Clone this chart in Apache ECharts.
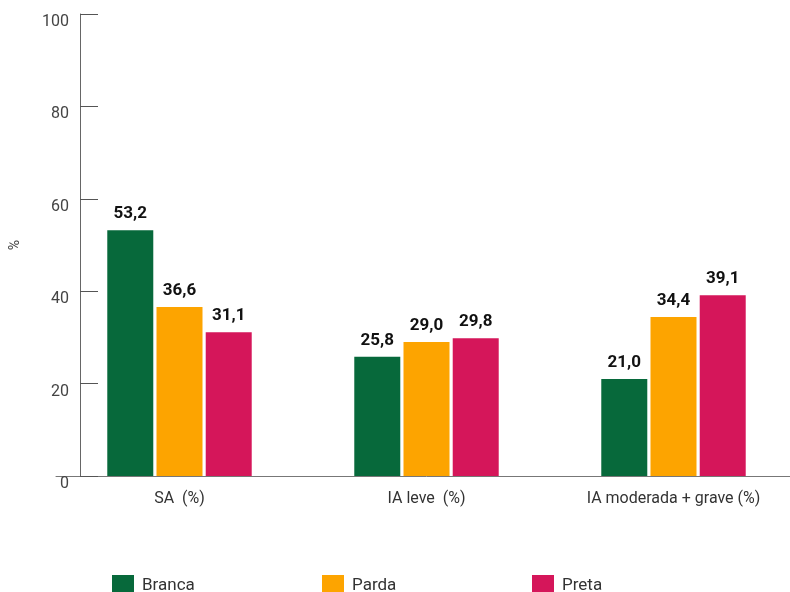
<!DOCTYPE html>
<html><head><meta charset="utf-8">
<script src="https://cdn.jsdelivr.net/npm/echarts@6/dist/echarts.min.js"></script>
<style>html,body{margin:0;padding:0;background:#fff;overflow:hidden}#c{width:800px;height:592px}</style>
</head><body><div id="c"></div>
<script>
const categories = ['SA  (%)', 'IA leve  (%)', 'IA moderada + grave (%)'];
const branca = [53.2, 25.8, 21.0];
const parda = [36.6, 29.0, 34.4];
const preta = [31.1, 29.8, 39.1];
const seriesNames = ['Branca', 'Parda', 'Preta'];
const colors = ['#07693b', '#fda400', '#d5165a'];
const yTicks = [0, 20, 40, 60, 80, 100];

const chart = echarts.init(document.getElementById('c'));
const fmt = p => p.value.toFixed(1).replace('.', ',');
const mk = (name, data, i) => ({
  name, type: 'bar', data, barWidth: 46, barGap: '7%',
  itemStyle: { color: colors[i] },
  label: { show: true, position: 'top', distance: 8, formatter: fmt,
    fontFamily: 'Roboto', fontWeight: 'bold', fontSize: 17, color: '#111' }
});
const legendLefts = [107, 317, 527];
chart.setOption({
  animation: false,
  textStyle: { fontFamily: 'Roboto' },
  grid: { left: 53, top: 14, right: 3, bottom: 116 },
  legend: seriesNames.map((n, i) => ({
    left: legendLefts[i], top: 570, itemWidth: 22, itemHeight: 22, itemGap: 8,
    icon: 'rect',
    textStyle: { fontFamily: 'Roboto', fontSize: 17, color: '#333', padding: [0, 0, 0, 3] },
    data: [n]
  })),
  xAxis: {
    type: 'category', data: categories,
    axisLine: { lineStyle: { color: '#777' } },
    axisTick: { inside: true, length: 10, lineStyle: { color: '#777' } },
    axisLabel: { fontSize: 16, color: '#333', margin: 15 }
  },
  yAxis: {
    type: 'value', min: yTicks[0], max: yTicks[yTicks.length - 1], interval: 20,
    offset: -24,
    name: '%', nameLocation: 'middle', nameGap: 58,
    nameTextStyle: { fontSize: 14, color: '#444' },
    axisLine: { show: true, lineStyle: { color: '#666' } },
    axisTick: { show: true, inside: true, length: 18, lineStyle: { color: '#555' } },
    axisLabel: { fontSize: 16, color: '#444', margin: 11, verticalAlign: 'top' },
    splitLine: { show: false }
  },
  series: [mk(seriesNames[0], branca, 0), mk(seriesNames[1], parda, 1), mk(seriesNames[2], preta, 2)]
});
</script></body></html>
